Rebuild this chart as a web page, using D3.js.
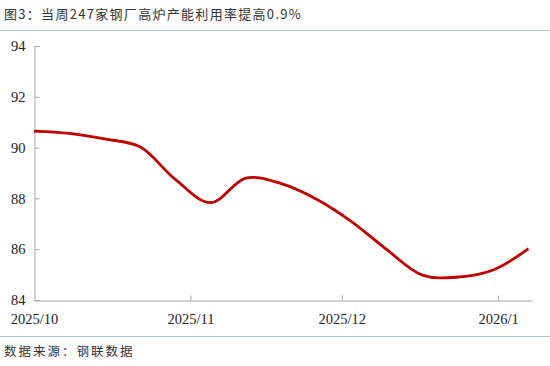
<!DOCTYPE html>
<html>
<head>
<meta charset="utf-8">
<script src="https://cdn.jsdelivr.net/npm/d3@7"></script>
<style>
  body { margin: 0; background: #fff; }
  svg { display: block; }
</style>
</head>
<body>
<svg id="chart" width="550" height="366"></svg>
<script>
// weekly readings, 247 steel mills blast furnace utilisation (%)
const dates = ['2025-10-01', '2025-10-08', '2025-10-15', '2025-10-22', '2025-10-29',
  '2025-11-05', '2025-11-12', '2025-11-19', '2025-11-26', '2025-12-03',
  '2025-12-10', '2025-12-17', '2025-12-24', '2025-12-31', '2026-01-07'];
const values = [90.65, 90.56, 90.34, 90.03, 88.75, 87.83, 88.8, 88.58, 87.97, 87.08,
  85.97, 84.98, 84.9, 85.18, 86.02];
const yTicks = [84, 86, 88, 90, 92, 94];
const monthTicks = ['2025-10-01', '2025-11-01', '2025-12-01', '2026-01-01'];
const monthLabels = ['2025/10', '2025/11', '2025/12', '2026/1'];

const parse = d3.timeParse('%Y-%m-%d');
const data = dates.map((d, i) => ({ date: parse(d), value: values[i] }));

const svg = d3.select('#chart');
const cjk = '"Noto Sans CJK SC", sans-serif';
const serif = '"Liberation Serif", "Times New Roman", serif';

// title + separators
svg.append('text')
  .attr('x', 4)
  .attr('y', 19)
  .attr('font-family', cjk)
  .attr('font-size', 13)
  .attr('letter-spacing', 1.3)
  .attr('fill', '#333')
  .text('图3：当周247家钢厂高炉产能利用率提高0.9%');

svg.append('line')
  .attr('x1', 0).attr('x2', 550)
  .attr('y1', 30.5).attr('y2', 30.5)
  .attr('stroke', '#b4c2d6')
  .attr('stroke-width', 1);

svg.append('line')
  .attr('x1', 0).attr('x2', 550)
  .attr('y1', 336.5).attr('y2', 336.5)
  .attr('stroke', '#b4c2d6')
  .attr('stroke-width', 1);

svg.append('text')
  .attr('x', 4)
  .attr('y', 356)
  .attr('font-family', cjk)
  .attr('font-size', 12.5)
  .attr('letter-spacing', 2)
  .attr('fill', '#333')
  .text('数据来源：钢联数据');

// scales
const x = d3.scaleTime()
  .domain([parse('2025-10-01'), new Date(2026, 0, 7, 17)])
  .range([34, 532]);

const y = d3.scaleLinear()
  .domain([84, 94])
  .range([300, 46]);

// y axis (ticks inside)
const yAxis = svg.append('g')
  .attr('transform', 'translate(34.5,0)')
  .call(d3.axisRight(y).tickValues(yTicks).tickSize(5).tickFormat(d3.format('d')));
yAxis.select('.domain').attr('stroke', '#a6a6a6');
yAxis.selectAll('.tick line').attr('stroke', '#a6a6a6');
yAxis.selectAll('.tick text')
  .attr('x', -9)
  .attr('text-anchor', 'end')
  .attr('font-family', serif)
  .attr('font-size', 14.5)
  .attr('fill', '#222');

// x axis (ticks inside)
const xAxis = svg.append('g')
  .attr('transform', 'translate(0,300.5)')
  .call(d3.axisTop(x)
    .tickValues(monthTicks.map(parse))
    .tickSize(5)
    .tickSizeOuter(0)
    .tickFormat((d, i) => monthLabels[i]));
xAxis.select('.domain').attr('stroke', '#a6a6a6');
xAxis.selectAll('.tick line').attr('stroke', '#a6a6a6');
xAxis.selectAll('.tick').filter((d, i) => i === 0).select('line').remove();
xAxis.selectAll('.tick text')
  .attr('y', 23)
  .attr('font-family', serif)
  .attr('font-size', 14.5)
  .attr('fill', '#222');

// line
const line = d3.line()
  .x(d => x(d.date))
  .y(d => y(d.value))
  .curve(d3.curveCatmullRom.alpha(0.5));

svg.append('path')
  .datum(data)
  .attr('d', line)
  .attr('fill', 'none')
  .attr('stroke', '#c00000')
  .attr('stroke-width', 2.8)
  .attr('stroke-linejoin', 'round');
</script>
</body>
</html>
